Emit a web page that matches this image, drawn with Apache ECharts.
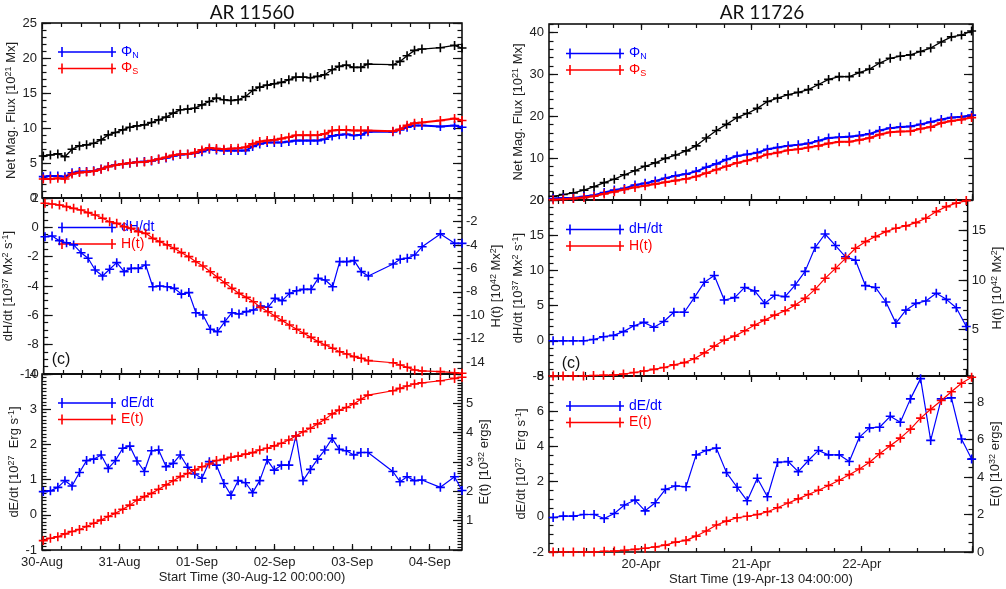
<!DOCTYPE html>
<html>
<head>
<meta charset="utf-8">
<title>AR 11560 / AR 11726</title>
<script src="https://cdn.jsdelivr.net/npm/echarts@6/dist/echarts.min.js"></script>
<style>
  html, body { margin: 0; padding: 0; background: #fff; }
  #chart { width: 1006px; height: 589px; }
</style>
</head>
<body>
<div id="chart"></div>
<script>
// ---- AR 11560 : hours since 30-Aug-12 00:00 ----
const hoursA = [0.4, 2.6, 4.9, 7.1, 9.3, 11.6, 13.8, 16.0, 18.3, 20.5, 22.7, 25.0, 27.2, 29.4, 31.7, 33.9, 36.1, 38.4, 40.6, 42.8,
  45.1, 47.3, 49.5, 51.8, 54.0, 56.3, 58.5, 60.7, 63.0, 65.2, 67.4, 69.7, 71.9, 74.1, 76.4, 78.6, 80.8, 83.1, 85.3, 87.5,
  89.8, 92.0, 94.2, 96.5, 98.7, 100.9, 108.6, 110.8, 113.0, 115.3, 117.6, 123.3, 127.7, 130.0];
const fluxNetA = [6.0, 6.15, 6.3, 5.9, 6.97, 7.44, 7.59, 7.82, 8.3, 9.02, 9.35, 9.73, 10.11, 10.31, 10.45, 10.78, 11.16, 11.55, 12.12, 12.6,
  12.69, 12.83, 13.31, 13.79, 14.27, 14.03, 13.93, 14.03, 14.5, 15.36, 15.84, 16.13, 16.32, 16.51, 16.89, 17.27, 17.27, 17.18, 17.37, 17.6,
  18.32, 18.8, 18.99, 18.66, 18.66, 19.13, 19.04, 19.51, 20.32, 21.09, 21.28, 21.47, 21.8, 21.42];
const fluxNA = [3.05, 3.15, 3.15, 3.05, 3.6, 3.77, 3.77, 3.9, 4.15, 4.5, 4.7, 4.87, 4.96, 5.15, 5.2, 5.3, 5.53, 5.72, 6.0, 6.2,
  6.25, 6.39, 6.6, 6.97, 6.87, 6.77, 6.77, 6.77, 6.77, 7.35, 7.73, 7.92, 7.92, 7.92, 8.06, 8.2, 8.2, 8.2, 8.2, 8.4,
  8.87, 9.02, 9.11, 8.92, 9.02, 9.45, 9.45, 9.73, 10.11, 10.35, 10.35, 10.2, 10.35, 10.11];
const fluxSA = [2.72, 2.72, 2.81, 2.72, 3.43, 3.63, 3.72, 3.82, 4.1, 4.48, 4.68, 4.87, 5.0, 5.1, 5.15, 5.34, 5.58, 5.82, 6.1, 6.25,
  6.3, 6.49, 6.87, 7.16, 7.06, 6.97, 7.06, 7.11, 7.25, 7.73, 8.06, 8.2, 8.3, 8.49, 8.68, 8.97, 8.97, 8.97, 8.97, 9.16,
  9.64, 9.73, 9.73, 9.64, 9.64, 9.64, 9.54, 9.83, 10.4, 10.69, 10.78, 11.07, 11.35, 11.07];
const dHdtA = [-0.64, -0.59, -0.91, -1.05, -1.2, -1.73, -2.11, -2.91, -3.32, -2.86, -2.41, -3.02, -2.8, -2.8, -2.57, -4.05, -4.0, -4.05, -4.16, -4.55,
  -4.45, -5.82, -5.98, -6.95, -7.11, -6.43, -5.82, -5.91, -5.75, -5.64, -5.36, -5.45, -4.84, -5.0, -4.5, -4.32, -4.23, -4.23, -3.48, -3.59,
  -4.05, -2.34, -2.34, -2.27, -3.02, -3.32, -2.5, -2.18, -2.11, -1.89, -1.32, -0.45, -1.09, -1.09];
const helA = [-0.45, -0.51, -0.6, -0.74, -0.88, -1.02, -1.25, -1.45, -1.73, -2.02, -2.16, -2.44, -2.59, -2.87, -3.01, -3.44, -3.72, -4.0, -4.29, -4.66,
  -5.0, -5.43, -5.8, -6.28, -6.76, -7.22, -7.7, -8.13, -8.47, -8.84, -9.32, -9.69, -10.06, -10.45, -10.82, -11.19, -11.53, -11.88, -12.24, -12.53,
  -12.81, -13.1, -13.3, -13.52, -13.66, -13.86, -14.04, -14.23, -14.43, -14.66, -14.74, -14.8, -14.89, -14.94];
const dEdtA = [0.66, 0.68, 0.78, 0.97, 0.82, 1.2, 1.54, 1.58, 1.7, 1.32, 1.54, 1.89, 1.95, 1.53, 1.23, 1.82, 1.84, 1.37, 1.46, 1.7,
  1.35, 1.16, 1.04, 1.51, 1.41, 0.89, 0.56, 0.97, 0.91, 0.63, 0.97, 1.56, 1.27, 1.41, 1.41, 2.24, 0.97, 1.29, 1.58, 1.84,
  2.17, 1.86, 1.82, 1.7, 1.77, 1.77, 1.23, 0.94, 1.08, 0.97, 0.99, 0.78, 1.08, 0.69];
const enA = [0.32, 0.4, 0.45, 0.55, 0.63, 0.7, 0.8, 0.91, 1.02, 1.14, 1.25, 1.39, 1.53, 1.7, 1.82, 1.93, 2.07, 2.22, 2.36, 2.5,
  2.61, 2.73, 2.84, 2.93, 3.05, 3.09, 3.16, 3.2, 3.27, 3.32, 3.41, 3.47, 3.55, 3.64, 3.75, 3.89, 4.03, 4.15, 4.3, 4.45,
  4.64, 4.77, 4.86, 4.98, 5.14, 5.28, 5.43, 5.51, 5.59, 5.66, 5.7, 5.77, 5.85, 5.89];
const dayLabelsA = ['30-Aug', '31-Aug', '01-Sep', '02-Sep', '03-Sep', '04-Sep'];

// ---- AR 11726 : hours since 19-Apr-13 00:00 ----
const hoursB = [4.9, 7.1, 9.3, 11.6, 13.8, 16.0, 18.2, 20.4, 22.7, 24.9, 27.1, 29.3, 31.5, 33.8, 36.0, 38.2, 40.4, 42.6, 44.9, 47.1,
  49.3, 51.5, 53.7, 56.0, 58.2, 60.4, 62.6, 64.8, 67.1, 69.3, 71.5, 73.7, 75.9, 78.2, 80.4, 82.6, 84.8, 87.0, 89.3, 91.5,
  93.7, 95.9];
const fluxNetB = [0.89, 1.3, 1.71, 2.36, 3.17, 4.15, 4.96, 6.02, 6.99, 8.05, 8.86, 9.92, 10.73, 11.71, 12.93, 14.8, 16.59, 18.05, 19.67, 20.65,
  21.87, 23.5, 24.31, 25.12, 25.69, 26.34, 27.56, 28.78, 29.43, 29.43, 30.41, 31.22, 32.68, 33.82, 34.31, 34.63, 35.45, 36.26, 37.72, 38.94,
  39.35, 40.33];
const fluxNB = [0.33, 0.49, 0.49, 0.81, 1.14, 1.79, 2.36, 2.76, 3.58, 3.98, 4.55, 5.2, 5.77, 6.18, 6.83, 7.8, 8.62, 9.67, 10.49, 10.89,
  11.3, 12.11, 12.52, 12.93, 13.17, 13.5, 14.15, 14.8, 14.96, 15.12, 15.37, 15.77, 16.59, 17.15, 17.4, 17.56, 18.05, 18.62, 19.19, 19.67,
  19.84, 20.24];
const fluxSB = [0.08, 0.16, 0.33, 0.57, 0.89, 1.46, 1.95, 2.52, 3.01, 3.41, 3.82, 4.23, 4.63, 5.04, 5.61, 6.42, 7.24, 8.05, 8.86, 9.43,
  10.08, 10.89, 11.3, 11.87, 12.11, 12.52, 12.93, 13.5, 13.9, 13.9, 14.31, 14.8, 15.61, 16.18, 16.34, 16.42, 16.99, 17.4, 18.37, 18.86,
  19.19, 19.67];
const dHdtB = [0, 0, 0, 0, 0.19, 0.58, 0.77, 1.3, 2.13, 2.61, 1.93, 2.75, 4.06, 4.06, 6.14, 8.31, 9.28, 5.8, 6.14, 7.58,
  7.1, 5.31, 6.47, 6.28, 7.92, 9.86, 13.24, 15.17, 13.53, 11.93, 11.45, 7.83, 7.58, 5.51, 2.51, 4.35, 5.31, 5.65, 6.76, 5.89,
  4.69, 2.03];
const helB = [0.3, 0.3, 0.3, 0.3, 0.35, 0.38, 0.4, 0.5, 0.65, 0.8, 0.97, 1.16, 1.42, 1.65, 2.05, 2.64, 3.32, 3.93, 4.33, 4.87,
  5.45, 5.95, 6.46, 6.9, 7.47, 8.15, 9.06, 10.18, 11.19, 12.2, 13.22, 13.89, 14.4, 14.9, 15.24, 15.48, 15.81, 16.26, 16.93, 17.43,
  17.78, 18.04];
const dEdtB = [-0.04, 0.04, 0.04, 0.13, 0.13, -0.1, 0.19, 0.67, 0.95, 0.34, 0.8, 1.56, 1.75, 1.71, 3.52, 3.77, 3.9, 2.51, 1.68, 0.91,
  2.19, 1.14, 3.09, 3.14, 2.57, 3.2, 3.77, 3.52, 3.52, 3.14, 4.53, 5.05, 5.09, 5.71, 5.37, 6.7, 7.85, 4.34, 6.7, 6.76,
  4.42, 3.28];
const enB = [0, 0, 0, 0, 0, 0.04, 0.05, 0.09, 0.14, 0.2, 0.27, 0.37, 0.53, 0.62, 0.85, 1.12, 1.44, 1.65, 1.83, 1.91,
  2.0, 2.15, 2.36, 2.62, 2.84, 3.07, 3.3, 3.55, 3.83, 4.13, 4.43, 4.79, 5.25, 5.67, 6.08, 6.56, 7.15, 7.62, 8.09, 8.56,
  9.01, 9.33];
const dayLabelsB = ['20-Apr', '21-Apr', '22-Apr'];

const FONT = '"Liberation Sans", Arial, sans-serif';
const BLUE = '#0000ff', RED = '#ff0000', BLACK = '#000000';
const PLUS = 'path://M4.1,0H5.9V4.1H10V5.9H5.9V10H4.1V5.9H0V4.1H4.1Z';
const LEG_ICON = 'path://M0,4.3H58V5.7H0Z M3.2,0H4.8V10H3.2Z M53.2,0H54.8V10H53.2Z';

function range(a, b, step) {
  const out = [];
  for (let k = 0; a + k * step <= b + 1e-9; k++) out.push(+(a + k * step).toFixed(4));
  return out;
}

const grids = [], xAxes = [], yAxes = [], series = [], legends = [];

function axis(dim, g, position, min, max, ticks, len, label, name, gap) {
  const list = dim === 'x' ? xAxes : yAxes;
  const ax = {
    type: 'value', gridIndex: g, position: position, min: min, max: max,
    axisLine: { show: false, onZero: false },
    splitLine: { show: false },
    axisTick: { show: true, inside: true, length: len, customValues: ticks, lineStyle: { color: '#111', width: 1.2 } },
    axisLabel: label || { show: false }
  };
  if (name) {
    ax.name = name;
    ax.nameLocation = 'middle';
    ax.nameGap = gap;
    ax.nameTextStyle = {
      fontSize: 13, color: '#222', fontFamily: FONT, lineHeight: 15,
      rich: { sup: { fontSize: 9, lineHeight: 9, verticalAlign: 'top', color: '#222', fontFamily: FONT } }
    };
  }
  list.push(ax);
  return list.length - 1;
}

function labelCfg(values, margin, fmt) {
  const c = { show: true, customValues: values, margin: margin, fontSize: 13, color: '#222', fontFamily: FONT };
  if (fmt) c.formatter = fmt;
  return c;
}

function panel(col, row, left, right) {
  const g = grids.length;
  grids.push({
    left: col.left, top: col.tops[row], width: col.width, height: col.heights[row],
    show: true, borderColor: '#000', borderWidth: 1.5, backgroundColor: 'transparent', containLabel: false
  });
  const bottom = row === 2;
  const xi = axis('x', g, 'bottom', col.xmin, col.xmax, col.xMajor, 6,
    bottom ? labelCfg(col.xLabelVals, 6, col.xFmt) : null,
    bottom ? col.xName : null, 20);
  axis('x', g, 'bottom', col.xmin, col.xmax, col.xMinor, 4);
  axis('x', g, 'top', col.xmin, col.xmax, col.xMajor, 6);
  axis('x', g, 'top', col.xmin, col.xmax, col.xMinor, 4);

  const yl = axis('y', g, 'left', left.min, left.max, left.major, 9,
    labelCfg(left.labels, 5), left.name, left.gap);
  axis('y', g, 'left', left.min, left.max, left.minor, 4.5);
  const r = right || left;
  const yr = axis('y', g, 'right', r.min, r.max, r.major, 9,
    right ? labelCfg(right.labels, 4) : null, right ? right.name : null, right ? right.gap : 0);
  axis('y', g, 'right', r.min, r.max, r.minor, 4.5);
  return { xi: xi, yl: yl, yr: yr };
}

function line(name, xs, ys, color, xi, yi, width, z) {
  series.push({
    name: name, type: 'line', xAxisIndex: xi, yAxisIndex: yi,
    data: xs.map((x, i) => [x, ys[i]]),
    symbol: PLUS, symbolSize: 9, showSymbol: true, showAllSymbol: true,
    itemStyle: { color: color, borderWidth: 0 },
    lineStyle: { color: color, width: width },
    emphasis: { disabled: true }, silent: true, z: z
  });
}

function legend(left, top, names) {
  legends.push({
    orient: 'vertical', left: left, top: top, padding: 0, itemGap: 0.5,
    itemWidth: 58, itemHeight: 10, icon: LEG_ICON, selectedMode: false,
    data: names,
    formatter: function (n) {
      if (n === 'ΦN') return '{b|Φ}{bs|N}';
      if (n === 'ΦS') return '{r|Φ}{rs|S}';
      return (n === 'H(t)' || n === 'E(t)') ? '{r|' + n + '}' : '{b|' + n + '}';
    },
    textStyle: {
      fontSize: 14, fontFamily: FONT, lineHeight: 16,
      rich: {
        b: { color: BLUE, fontSize: 14, lineHeight: 16, fontFamily: FONT },
        r: { color: RED, fontSize: 14, lineHeight: 16, fontFamily: FONT },
        bs: { color: BLUE, fontSize: 9, lineHeight: 8, verticalAlign: 'bottom', fontFamily: FONT },
        rs: { color: RED, fontSize: 9, lineHeight: 8, verticalAlign: 'bottom', fontFamily: FONT }
      }
    }
  });
}

const colA = {
  left: 42, width: 420, tops: [23, 198, 374], heights: [175, 176, 176],
  xmin: 0, xmax: 130, xMajor: range(0, 120, 24), xMinor: range(6, 126, 6),
  xLabelVals: range(0, 120, 24), xFmt: v => dayLabelsA[Math.round(v / 24)] || '',
  xName: 'Start Time (30-Aug-12 00:00:00)'
};
const colB = {
  left: 549, width: 424, tops: [24, 200, 376], heights: [176, 176, 176],
  xmin: 4, xmax: 96.2, xMajor: range(24, 96, 24), xMinor: range(6, 96, 6),
  xLabelVals: range(24, 72, 24), xFmt: v => dayLabelsB[Math.round(v / 24) - 1] || '',
  xName: 'Start Time (19-Apr-13 04:00:00)'
};

const fluxName = 'Net Mag. Flux [10{sup|21} Mx]';
const dHName = 'dH/dt [10{sup|37} Mx{sup|2} s{sup|-1}]';
const HName = 'H(t) [10{sup|42} Mx{sup|2}]';
const dEName = 'dE/dt [10{sup|27}  Erg s{sup|-1}]';
const EName = 'E(t) [10{sup|32} ergs]';

// ---- left column ----
let p = panel(colA, 0, { min: 0, max: 25, major: range(0, 25, 5), minor: range(0, 25, 1), labels: range(0, 25, 5), name: fluxName, gap: 16 });
line('Φ', hoursA, fluxNetA, BLACK, p.xi, p.yl, 1.3, 3);
line('ΦN', hoursA, fluxNA, BLUE, p.xi, p.yl, 2, 4);
line('ΦS', hoursA, fluxSA, RED, p.xi, p.yl, 2, 5);
legend(58, 44, ['ΦN', 'ΦS']);

p = panel(colA, 1,
  { min: -10, max: 2, major: range(-10, 2, 2), minor: range(-10, 2, 0.5), labels: range(-10, 2, 2), name: dHName, gap: 17 },
  { min: -15, max: 0, major: range(-14, 0, 2), minor: range(-15, 0, 0.5), labels: range(-14, -2, 2), name: HName, gap: 14 });
line('dH/dt', hoursA, dHdtA, BLUE, p.xi, p.yl, 1.2, 4);
line('H(t)', hoursA, helA, RED, p.xi, p.yr, 1.2, 5);
legend(58, 219.5, ['dH/dt', 'H(t)']);

p = panel(colA, 2,
  { min: -1, max: 4, major: range(-1, 4, 1), minor: range(-1, 4, 0.1), labels: range(-1, 4, 1), name: dEName, gap: 17 },
  { min: 0, max: 6, major: range(0, 6, 1), minor: range(0, 6, 0.1), labels: range(1, 5, 1), name: EName, gap: 7 });
line('dE/dt', hoursA, dEdtA, BLUE, p.xi, p.yl, 1.2, 4);
line('E(t)', hoursA, enA, RED, p.xi, p.yr, 1.2, 5);
legend(58, 395, ['dE/dt', 'E(t)']);

// ---- right column ----
p = panel(colB, 0, { min: 0, max: 42, major: range(0, 40, 10), minor: range(0, 42, 2), labels: range(0, 40, 10), name: fluxName, gap: 16 });
line('Φ', hoursB, fluxNetB, BLACK, p.xi, p.yl, 1.3, 3);
line('ΦN', hoursB, fluxNB, BLUE, p.xi, p.yl, 2, 4);
line('ΦS', hoursB, fluxSB, RED, p.xi, p.yl, 2, 5);
legend(566, 45.5, ['ΦN', 'ΦS']);

p = panel(colB, 1,
  { min: -5, max: 20, major: range(-5, 20, 5), minor: range(-5, 20, 1), labels: range(-5, 20, 5), name: dHName, gap: 12 },
  { min: 0.3, max: 18.1, major: [5, 10, 15], minor: range(1, 18, 1), labels: [5, 10, 15], name: HName, gap: 14 });
line('dH/dt', hoursB, dHdtB, BLUE, p.xi, p.yl, 1.2, 4);
line('H(t)', hoursB, helB, RED, p.xi, p.yr, 1.2, 5);
legend(566, 221.5, ['dH/dt', 'H(t)']);

p = panel(colB, 2,
  { min: -2, max: 8, major: range(-2, 8, 2), minor: range(-2, 8, 0.5), labels: range(-2, 8, 2), name: dEName, gap: 10 },
  { min: 0, max: 9.4, major: range(0, 8, 2), minor: range(0, 9, 0.5), labels: range(0, 8, 2), name: EName, gap: 12 });
line('dE/dt', hoursB, dEdtB, BLUE, p.xi, p.yl, 1.2, 4);
line('E(t)', hoursB, enB, RED, p.xi, p.yr, 1.2, 5);
legend(566, 398, ['dE/dt', 'E(t)']);

function text(x, y, str, font, valign) {
  return {
    type: 'text', x: x, y: y, silent: true, z: 100,
    style: { text: str, font: font, fill: '#111', align: 'center', verticalAlign: valign, textAlign: 'center', textVerticalAlign: valign }
  };
}

const chart = echarts.init(document.getElementById('chart'), null, { renderer: 'canvas' });
chart.setOption({
  animation: false,
  backgroundColor: '#ffffff',
  grid: grids,
  xAxis: xAxes,
  yAxis: yAxes,
  legend: legends,
  series: series,
  graphic: [
    text(252, 3, 'AR 11560', '19px Lato, "Open Sans", sans-serif', 'top'),
    text(762, 3, 'AR 11726', '19px Lato, "Open Sans", sans-serif', 'top'),
    text(61, 360, '(c)', '16px "Liberation Sans", Arial, sans-serif', 'middle'),
    text(571, 364, '(c)', '16px "Liberation Sans", Arial, sans-serif', 'middle')
  ]
});
</script>
</body>
</html>
